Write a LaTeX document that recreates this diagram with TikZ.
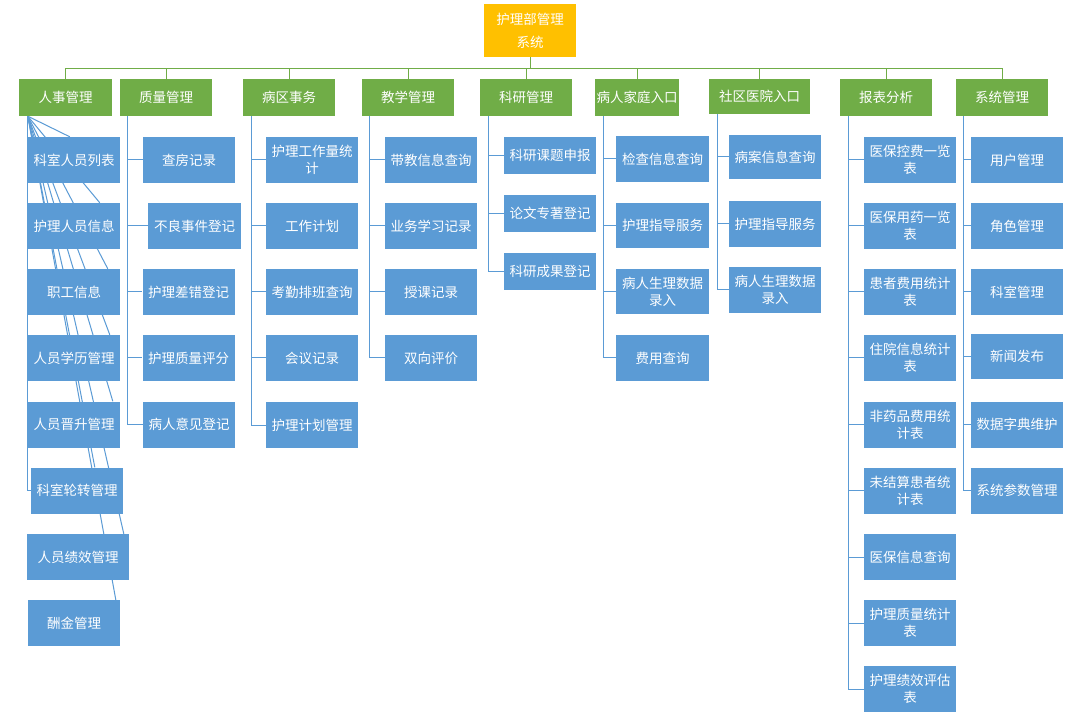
\documentclass[tikz,border=0pt]{standalone}
\usepackage{fontspec}
\newfontfamily\cjk{Noto Sans CJK SC}
\usetikzlibrary{backgrounds}
\definecolor{cgreen}{HTML}{70AD47}
\definecolor{cblue}{HTML}{5B9BD5}
\definecolor{cyellow}{HTML}{FFC000}
\begin{document}
\begin{tikzpicture}[x=1pt,y=-1pt,
 base/.style={inner sep=0pt, text=white, font=\cjk\fontsize{13.5}{17}\selectfont, align=center, anchor=center},
 rootbox/.style={base, fill=cyellow, minimum width=92pt, minimum height=53pt},
 topbox/.style={base, fill=cgreen, minimum width=92pt, minimum height=37pt},
 leaf/.style={base, fill=cblue, minimum width=92pt, minimum height=46pt},
 gline/.style={draw=cgreen, line width=1pt},
 bline/.style={draw=cblue, line width=1pt},
]
\useasboundingbox (0,0) rectangle (1090,719);

\node[rootbox] (root) at (530,30.5) {护理部管理\\[6pt]系统};

\node[topbox, minimum width=93pt] (A) at (65.5,97.5) {人事管理};
\node[topbox] (B) at (166,97.5) {质量管理};
\node[topbox] (C) at (289,97.5) {病区事务};
\node[topbox] (D) at (408,97.5) {教学管理};
\node[topbox] (E) at (526,97.5) {科研管理};
\node[topbox, minimum width=84pt] (F) at (637,97.5) {病人家庭入口};
\node[topbox, minimum width=101pt, minimum height=35pt] (G) at (759.5,96.5) {社区医院入口};
\node[topbox] (H) at (886,97.5) {报表分析};
\node[topbox] (I) at (1002,97.5) {系统管理};

% column A
\node[leaf] (A1) at (74,160) {科室人员列表};
\node[leaf] (A2) at (74,226) {护理人员信息};
\node[leaf] (A3) at (74,292) {职工信息};
\node[leaf] (A4) at (74,358) {人员学历管理};
\node[leaf] (A5) at (74,424.5) {人员晋升管理};
\node[leaf] (A6) at (77,490.5) {科室轮转管理};
\node[leaf, minimum width=102pt] (A7) at (78,557) {人员绩效管理};
\node[leaf] (A8) at (74,623) {酬金管理};

% column B
\node[leaf] (B1) at (189,160) {查房记录};
\node[leaf, minimum width=93pt] (B2) at (194.5,226) {不良事件登记};
\node[leaf] (B3) at (188.5,292) {护理差错登记};
\node[leaf] (B4) at (188.5,358) {护理质量评分};
\node[leaf] (B5) at (189,424.5) {病人意见登记};

% column C
\node[leaf] (C1) at (312,160) {护理工作量统\\计};
\node[leaf] (C2) at (312,226) {工作计划};
\node[leaf] (C3) at (312,292) {考勤排班查询};
\node[leaf] (C4) at (312,358) {会议记录};
\node[leaf] (C5) at (312,425) {护理计划管理};

% column D
\node[leaf] (D1) at (431,160) {带教信息查询};
\node[leaf] (D2) at (431,226) {业务学习记录};
\node[leaf] (D3) at (431,292) {授课记录};
\node[leaf] (D4) at (431,358) {双向评价};

% column E
\node[leaf, minimum height=37pt] (E1) at (550,155.5) {科研课题申报};
\node[leaf, minimum height=37pt] (E2) at (550,213.5) {论文专著登记};
\node[leaf, minimum height=37pt] (E3) at (550,271.5) {科研成果登记};

% column F
\node[leaf, minimum width=93pt] (F1) at (662.5,159) {检查信息查询};
\node[leaf, minimum width=93pt, minimum height=45pt] (F2) at (662.5,225.5) {护理指导服务};
\node[leaf, minimum width=93pt, minimum height=45pt] (F3) at (662.5,291.5) {病人生理数据\\录入};
\node[leaf, minimum width=93pt] (F4) at (662.5,358) {费用查询};

% column G
\node[leaf, minimum height=44pt] (G1) at (775,157) {病案信息查询};
\node[leaf] (G2) at (775,224) {护理指导服务};
\node[leaf] (G3) at (775,290) {病人生理数据\\录入};

% column H
\node[leaf] (H1) at (910,160) {医保控费一览\\表};
\node[leaf] (H2) at (910,226) {医保用药一览\\表};
\node[leaf] (H3) at (910,292) {患者费用统计\\表};
\node[leaf] (H4) at (910,358) {住院信息统计\\表};
\node[leaf] (H5) at (910,424.5) {非药品费用统\\计表};
\node[leaf] (H6) at (910,490.5) {未结算患者统\\计表};
\node[leaf] (H7) at (910,557) {医保信息查询};
\node[leaf] (H8) at (910,623) {护理质量统计\\表};
\node[leaf] (H9) at (910,689) {护理绩效评估\\表};

% column I
\node[leaf] (I1) at (1017,160) {用户管理};
\node[leaf] (I2) at (1017,226) {角色管理};
\node[leaf] (I3) at (1017,292) {科室管理};
\node[leaf, minimum height=45pt] (I4) at (1017,356.5) {新闻发布};
\node[leaf] (I5) at (1017,424.5) {数据字典维护};
\node[leaf] (I6) at (1017,490.5) {系统参数管理};

\begin{pgfonlayer}{background}
\fill[white] (0,0) rectangle (1090,719);
% top level
\draw[gline] (root.south) -- ++(0,11) coordinate (hub);
\foreach \n in {A,B,C,D,E,F,G,H,I} \draw[gline] (hub) -| (\n.north);
% trees
\foreach \c in {A1,A2,A3,A4,A5,A6} \draw[bline] ([xshift=9pt]A.south west) |- (\c.west);
\foreach \c in {B1,B2,B3,B4,B5} \draw[bline] ([xshift=8pt]B.south west) |- (\c.west);
\foreach \c in {C1,C2,C3,C4,C5} \draw[bline] ([xshift=9pt]C.south west) |- (\c.west);
\foreach \c in {D1,D2,D3,D4} \draw[bline] ([xshift=8pt]D.south west) |- (\c.west);
\foreach \c in {E1,E2,E3} \draw[bline] ([xshift=9pt]E.south west) |- (\c.west);
\foreach \c in {F1,F2,F3,F4} \draw[bline] ([xshift=9pt]F.south west) |- (\c.west);
\foreach \c in {G1,G2,G3} \draw[bline] ([xshift=9pt]G.south west) |- (\c.west);
\foreach \c in {H1,H2,H3,H4,H5,H6,H7,H8,H9} \draw[bline] ([xshift=9pt]H.south west) |- (\c.west);
\foreach \c in {I1,I2,I3,I4,I5,I6} \draw[bline] ([xshift=8pt]I.south west) |- (\c.west);
% fan lines in column A
\foreach \c/\d in {A1/42,A2/72,A3/80,A4/82,A5/85,A6/64,A7/97,A8/88}
  \draw[bline] ([xshift=9pt]A.south west) -- ([xshift=\d pt]\c.north west);
\end{pgfonlayer}
\end{tikzpicture}
\end{document}
